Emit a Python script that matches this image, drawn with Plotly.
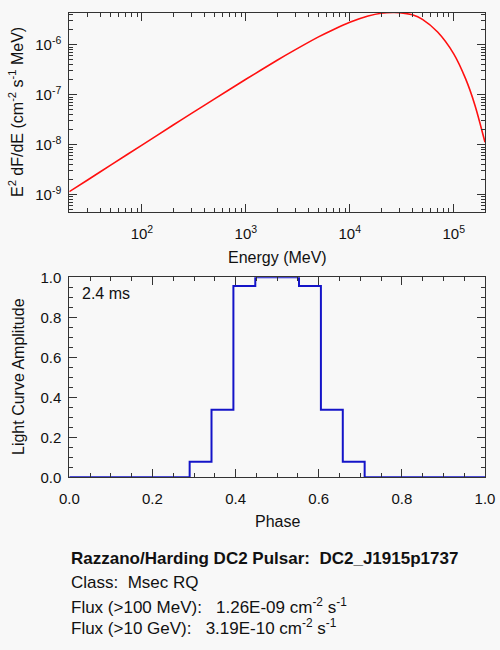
import plotly.graph_objects as go

# --- DATA ---
energy_mev = [20, 30, 50, 100, 200, 300, 500, 1000, 2000, 3000, 5000, 7000,
              10000, 15000, 20000, 26000, 30000, 40000, 50000, 70000,
              100000, 130000, 160000, 200000]
e2_dfde = [1.15e-9, 1.97e-9, 3.91e-9, 9.8e-9, 2.48e-8, 4.23e-8, 8.3e-8, 2.04e-7,
           4.91e-7, 8.0e-7, 1.44e-6, 2.03e-6, 2.82e-6, 3.76e-6, 4.28e-6, 4.46e-6,
           4.42e-6, 3.98e-6, 3.24e-6, 1.80e-6, 6.6e-7, 2.1e-7, 6.2e-8, 1.12e-8]

energy_ticks = [1e2, 1e3, 1e4, 1e5]
energy_tick_text = ["10<sup>2</sup>", "10<sup>3</sup>", "10<sup>4</sup>", "10<sup>5</sup>"]
flux_ticks = [1e-9, 1e-8, 1e-7, 1e-6]
flux_tick_text = ["10<sup>-9</sup>", "10<sup>-8</sup>", "10<sup>-7</sup>", "10<sup>-6</sup>"]

phase = [0.0, 0.0526, 0.1053, 0.1579, 0.2105, 0.2632, 0.3158, 0.3684, 0.4211, 0.4737,
         0.5263, 0.5789, 0.6316, 0.6842, 0.7368, 0.7895, 0.8421, 0.8947, 0.9474, 1.0]
amplitude = [0, 0, 0, 0, 0, 0, 0.078, 0.338, 0.957, 1.0,
             1.0, 0.957, 0.338, 0.078, 0, 0, 0, 0, 0, 0]

info_lines = [
    "<b>Razzano/Harding DC2 Pulsar:  DC2_J1915p1737</b>",
    "Class:  Msec RQ",
    "Flux (>100 MeV):   1.26E-09 cm<sup>-2</sup> s<sup>-1</sup>",
    "Flux (>10 GeV):   3.19E-10 cm<sup>-2</sup> s<sup>-1</sup>",
]

# --- LAYOUT HELPERS ---
W, H = 500, 650
FONT = "Liberation Sans, Arial, Helvetica, sans-serif"
INK = "#111111"
FRAME = "#333333"


def px_x(x):
    return x / W


def px_y(y):
    return 1 - y / H


axis_style = dict(
    showline=True, linecolor=FRAME, linewidth=1, mirror="ticks",
    ticks="inside", ticklen=8, tickcolor=FRAME, tickwidth=1,
    showgrid=False, zeroline=False, automargin=False,
    tickfont=dict(family=FONT, size=15, color=INK),
)

fig = go.Figure()
fig.add_trace(go.Scatter(
    x=energy_mev, y=e2_dfde, mode="lines",
    line=dict(color="#ff1010", width=1.6, shape="spline", smoothing=0.8),
    xaxis="x", yaxis="y", showlegend=False,
))
fig.add_trace(go.Scatter(
    x=phase, y=amplitude, mode="lines",
    line=dict(color="#1414c8", width=2, shape="hvh"),
    xaxis="x2", yaxis="y2", showlegend=False, cliponaxis=False,
))

x_dom = [px_x(69.3), px_x(485)]
log_minor = dict(ticks="inside", ticklen=4, tickcolor=FRAME, dtick="D1")

fig.update_layout(
    width=W, height=H,
    margin=dict(l=0, r=0, t=0, b=0),
    paper_bgcolor="#f8f8f8", plot_bgcolor="#f8f8f8",
    font=dict(family=FONT, color=INK),
    xaxis=dict(axis_style, type="log", range=[1.30103, 5.30103],
               tickmode="array", tickvals=energy_ticks, ticktext=energy_tick_text,
               domain=x_dom, anchor="y", ticklabelstandoff=8, minor=log_minor),
    yaxis=dict(axis_style, type="log", range=[-9.347, -5.357],
               tickmode="array", tickvals=flux_ticks, ticktext=flux_tick_text,
               domain=[px_y(212), px_y(12.7)], anchor="x",
               ticklabelstandoff=4, minor=log_minor),
    xaxis2=dict(axis_style, range=[0, 1], dtick=0.2, tickformat=".1f",
                domain=x_dom, anchor="y2", ticklabelstandoff=8,
                minor=dict(ticks="inside", ticklen=4, tickcolor=FRAME, dtick=0.05)),
    yaxis2=dict(axis_style, range=[0, 1], dtick=0.2, tickformat=".1f",
                domain=[px_y(477.3), px_y(277.3)], anchor="x2",
                ticklabelstandoff=4,
                minor=dict(ticks="inside", ticklen=4, tickcolor=FRAME, dtick=0.05)),
)

ann = []
# axis titles
ann.append(dict(text="Energy (MeV)", x=px_x(277), y=px_y(257), font=dict(size=16)))
ann.append(dict(text="E<sup>2</sup> dF/dE (cm<sup>-2</sup> s<sup>-1</sup> MeV)",
                x=px_x(16), y=px_y(112), textangle=-90, font=dict(size=16)))
ann.append(dict(text="Phase", x=px_x(277), y=px_y(521), font=dict(size=16)))
ann.append(dict(text="Light Curve Amplitude", x=px_x(18), y=px_y(377),
                textangle=-90, font=dict(size=16)))
ann.append(dict(text="2.4 ms", x=px_x(80), y=px_y(293), xanchor="left",
                font=dict(size=16)))
# info block
for text, y in zip(info_lines, [558, 582, 606, 627]):
    ann.append(dict(text=text, x=px_x(69), y=px_y(y), xanchor="left",
                    font=dict(size=17)))

for a in ann:
    a.update(xref="paper", yref="paper", showarrow=False)
    a.setdefault("xanchor", "center")
    a["yanchor"] = "middle"
    a["font"].update(family=FONT, color=INK)
fig.update_layout(annotations=ann)

# the page body has a default 8px margin; drop it so the figure fills the window
fig.write_html("out.html", config={"displayModeBar": False},
               post_script="document.body.style.margin='0';")
